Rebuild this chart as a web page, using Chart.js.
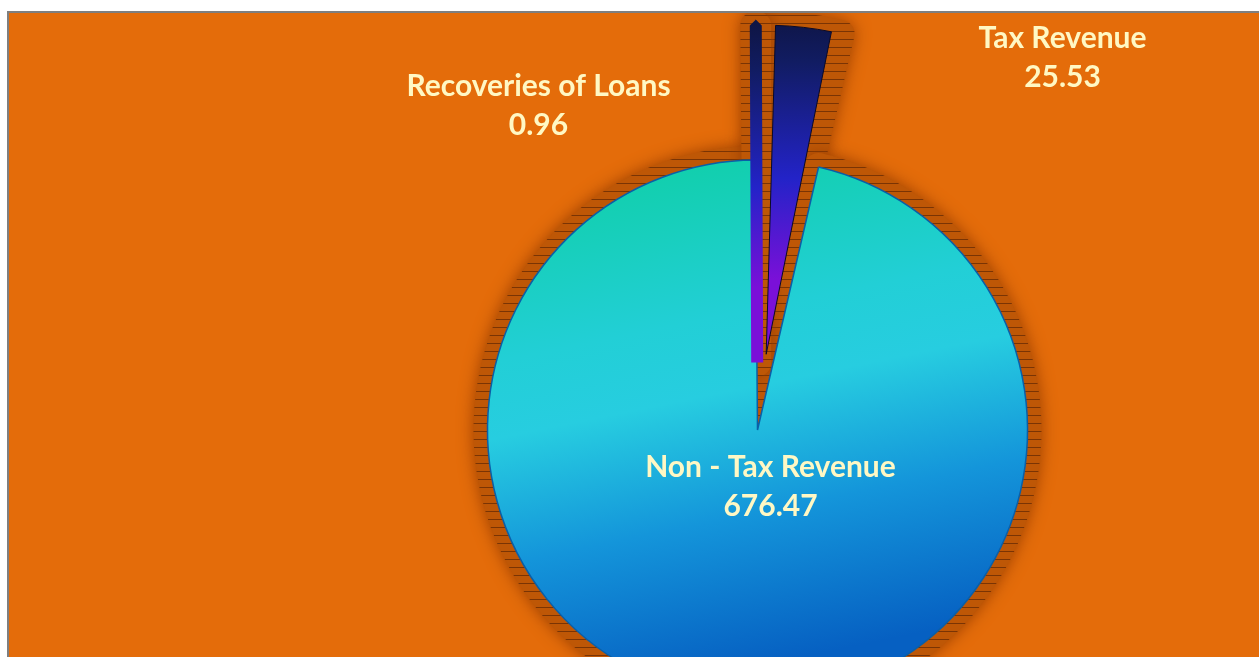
<!DOCTYPE html>
<html>
<head>
<meta charset="utf-8">
<script src="https://cdn.jsdelivr.net/npm/chart.js@4"></script>
<style>
  html, body { margin: 0; padding: 0; background: #fff; overflow: hidden; }
  body { width: 1259px; height: 657px; position: relative; }
  #frame {
    position: absolute; left: 7px; top: 11px; width: 1300px; height: 700px;
    background: #E46C0A; border-left: 2px solid #7f7f7f; border-top: 2px solid #7f7f7f;
  }
  #wrap {
    position: absolute; left: 0; top: 0; width: 1259px; height: 860px;
    clip-path: inset(13px 0 0 9px);
  }
</style>
</head>
<body>
<div id="frame"></div>
<div id="wrap"><canvas id="pieChart"></canvas></div>
<script>
// data, clockwise from 12 o'clock
var categories = ['Tax Revenue', 'Non - Tax Revenue', 'Recoveries of Loans'];
var revenue = [25.53, 676.47, 0.96];
var valueLabels = ['25.53', '676.47', '0.96'];

// label baselines relative to pie centre
var labelOffsets = [[305, -382], [13, 47], [-219, -334]];

var canvas = document.getElementById('pieChart');

function centre(chart) {
  var a = chart.chartArea;
  return { x: (a.left + a.right) / 2, y: (a.top + a.bottom) / 2 };
}

function sliceFill(context) {
  var chart = context.chart;
  if (!chart.chartArea) return '#1599DA';
  var c = centre(chart);
  var g;
  if (context.dataIndex === 1) {
    g = chart.ctx.createLinearGradient(c.x - 70, c.y - 260, c.x + 30, c.y + 230);
    g.addColorStop(0, '#12CFAE');
    g.addColorStop(0.3, '#22CFD6');
    g.addColorStop(0.45, '#27CDE0');
    g.addColorStop(0.7, '#1495DA');
    g.addColorStop(1, '#0660C2');
  } else {
    g = chart.ctx.createLinearGradient(0, c.y - 410, 0, c.y - 75);
    g.addColorStop(0, '#0A0A18');
    g.addColorStop(0.35, '#111C62');
    g.addColorStop(0.7, '#2323C8');
    g.addColorStop(1, '#7A10D8');
  }
  return g;
}

function sliceBorder(context) {
  if (context.dataIndex === 2) return sliceFill(context);
  return context.dataIndex === 1 ? '#0A5FA8' : '#0A0A28';
}

// striped dark pedestal under the slices
var stripe = document.createElement('canvas');
stripe.width = 8; stripe.height = 8;
var sctx = stripe.getContext('2d');
sctx.fillStyle = '#BE5706';
sctx.fillRect(0, 0, 8, 8);
sctx.fillStyle = '#7A3404';
sctx.fillRect(0, 7, 8, 1);

var pedestal = {
  id: 'pedestal',
  beforeDatasetsDraw: function(chart) {
    var ctx = chart.ctx;
    var meta = chart.getDatasetMeta(0);
    ctx.save();
    ctx.fillStyle = ctx.createPattern(stripe, 'repeat');
    ctx.strokeStyle = ctx.fillStyle;
    ctx.lineWidth = 28;
    ctx.lineJoin = 'round';
    ctx.shadowColor = 'rgba(150,60,0,0.9)';
    ctx.shadowBlur = 16;
    meta.data.forEach(function(arc) {
      var p = arc.getProps(['x', 'y', 'startAngle', 'endAngle', 'outerRadius', 'circumference']);
      var d = (arc.options.offset || 0) / 4;
      var fix = 1 - Math.sin(Math.min(Math.PI, p.circumference || 0));
      var r = p.outerRadius + d * fix;
      var mid = (p.startAngle + p.endAngle) / 2;
      var cx = p.x + Math.cos(mid) * d, cy = p.y + Math.sin(mid) * d;
      ctx.beginPath();
      ctx.moveTo(cx, cy);
      ctx.arc(cx, cy, r, p.startAngle, p.endAngle);
      ctx.closePath();
      ctx.fill();
      ctx.stroke();
    });
    ctx.restore();
  }
};

var sliceLabels = {
  id: 'sliceLabels',
  afterDatasetsDraw: function(chart) {
    var ctx = chart.ctx;
    var c = centre(chart);
    ctx.save();
    ctx.font = 'bold 30px Lato';
    ctx.fillStyle = '#FFF8C4';
    ctx.textAlign = 'center';
    ctx.textBaseline = 'alphabetic';
    categories.forEach(function(name, i) {
      var x = c.x + labelOffsets[i][0], y = c.y + labelOffsets[i][1];
      ctx.fillText(name, x, y);
      ctx.fillText(valueLabels[i], x, y + 39);
    });
    ctx.restore();
  }
};

new Chart(canvas, {
  type: 'pie',
  data: {
    labels: categories,
    datasets: [{
      data: revenue,
      backgroundColor: sliceFill,
      borderColor: sliceBorder,
      borderWidth: [1, 1.5, 12],
      offset: [305, 0, 270],
      radius: 270
    }]
  },
  options: {
    responsive: true,
    maintainAspectRatio: false,
    animation: false,
    rotation: 0,
    layout: { padding: { left: 256 } },
    plugins: {
      legend: { display: false },
      tooltip: { enabled: false }
    }
  },
  plugins: [pedestal, sliceLabels]
});
</script>
</body>
</html>
